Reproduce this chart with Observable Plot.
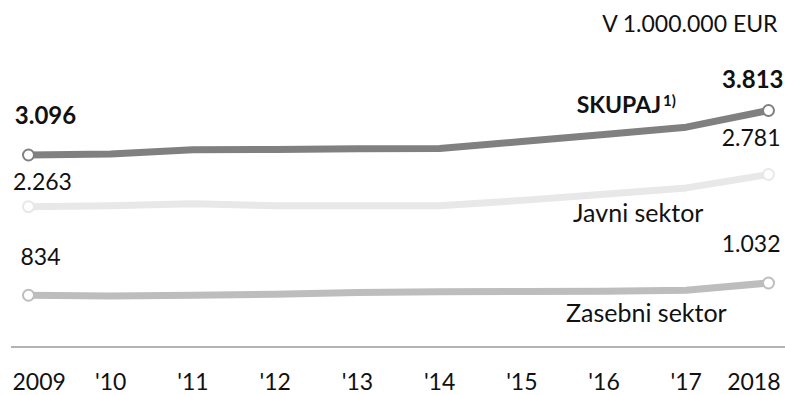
<!DOCTYPE html>
<html>
<head>
<meta charset="utf-8">
<script src="https://cdn.jsdelivr.net/npm/d3@7"></script>
<script src="https://cdn.jsdelivr.net/npm/@observablehq/plot@0.6"></script>
<style>
  html, body { margin: 0; padding: 0; background: #fff; }
  #chart svg { display: block; }
</style>
</head>
<body>
<div id="chart"></div>
<script>
const years = [2009, 2010, 2011, 2012, 2013, 2014, 2015, 2016, 2017, 2018];
const tickLabels = ["2009", "'10", "'11", "'12", "'13", "'14", "'15", "'16", "'17", "2018"];
const skupaj = [3096, 3111, 3179, 3185, 3195, 3200, 3313, 3426, 3544, 3813];
const javni = [2263, 2279, 2311, 2279, 2279, 2279, 2364, 2461, 2565, 2781];
const zasebni = [834, 824, 835, 852, 878, 889, 894, 900, 916, 1032];
const seriesNames = ["Zasebni sektor", "Javni sektor", "SKUPAJ"];
const unitLabel = "V 1.000.000 EUR";
const footnoteMark = "1)";

const colors = {"SKUPAJ": "#808080", "Javni sektor": "#e8e8e8", "Zasebni sektor": "#bdbdbd"};
const values = {"SKUPAJ": skupaj, "Javni sektor": javni, "Zasebni sektor": zasebni};

const rows = seriesNames.flatMap(s => years.map((y, i) => ({series: s, year: y, value: values[s][i]})));
const ends = rows.filter(d => d.year === years[0] || d.year === years[years.length - 1]);

const fmt = d3.formatLocale({decimal: ",", thousands: ".", grouping: [3], currency: ["", ""]}).format(",d");

const startOffsets = {"SKUPAJ": {dx: 17, dy: -39}, "Javni sektor": {dx: 14, dy: -24}, "Zasebni sektor": {dx: 12, dy: -38}};
const endOffsets = {"SKUPAJ": {dx: 15, dy: -30}, "Javni sektor": {dx: 12, dy: -36}, "Zasebni sektor": {dx: 12, dy: -38}};

const font = "Lato, 'Noto Sans', sans-serif";
const marks = [];
marks.push(Plot.ruleY([0], {stroke: "#9a9a9a", strokeWidth: 1.5}));
for (const s of seriesNames) {
  marks.push(Plot.line(rows.filter(d => d.series === s), {x: "year", y: "value", stroke: colors[s], strokeWidth: 7, curve: "linear"}));
}
for (const s of seriesNames) {
  marks.push(Plot.dot(ends.filter(d => d.series === s), {x: "year", y: "value", r: 5.5, fill: "white", stroke: colors[s], strokeWidth: 2}));
}
for (const s of seriesNames) {
  const bold = s === "SKUPAJ";
  const first = rows.filter(d => d.series === s && d.year === years[0]);
  const last = rows.filter(d => d.series === s && d.year === years[years.length - 1]);
  marks.push(Plot.text(first, {x: "year", y: "value", text: d => fmt(d.value), textAnchor: "middle",
    dx: startOffsets[s].dx, dy: startOffsets[s].dy, fontSize: bold ? 24 : 23, fontWeight: bold ? "bold" : "normal", fill: "#111"}));
  marks.push(Plot.text(last, {x: "year", y: "value", text: d => fmt(d.value), textAnchor: "end",
    dx: endOffsets[s].dx, dy: endOffsets[s].dy, fontSize: bold ? 24 : 23, fontWeight: bold ? "bold" : "normal", fill: "#111"}));
}
// series labels, placed relative to the 2016 point of each series
const labelYear = 2016;
const at = s => rows.filter(d => d.series === s && d.year === labelYear);
marks.push(Plot.text(at("SKUPAJ"), {x: "year", y: "value", text: () => "SKUPAJ", textAnchor: "end", dx: 57, dy: -29, fontSize: 23, fontWeight: "bold", fill: "#111"}));
marks.push(Plot.text(at("SKUPAJ"), {x: "year", y: "value", text: () => footnoteMark, textAnchor: "start", dx: 59, dy: -33, fontSize: 15, fontWeight: "bold", fill: "#111"}));
marks.push(Plot.text(at("Javni sektor"), {x: "year", y: "value", text: () => "Javni sektor", textAnchor: "start", dx: -31, dy: 20, fontSize: 25, fill: "#111"}));
marks.push(Plot.text(at("Zasebni sektor"), {x: "year", y: "value", text: () => "Zasebni sektor", textAnchor: "start", dx: -38, dy: 23, fontSize: 25, fill: "#111"}));
// x tick labels
const ticks = years.map((y, i) => ({year: y, label: tickLabels[i]}));
marks.push(Plot.text(ticks.slice(1, -1), {x: "year", text: "label", frameAnchor: "bottom", lineAnchor: "middle", textAnchor: "middle", dy: 35.5, fontSize: 23, fill: "#111"}));
marks.push(Plot.text(ticks.slice(0, 1), {x: "year", text: "label", frameAnchor: "bottom", lineAnchor: "middle", textAnchor: "start", dx: -16, dy: 35.5, fontSize: 23, fill: "#111"}));
marks.push(Plot.text(ticks.slice(-1), {x: "year", text: "label", frameAnchor: "bottom", lineAnchor: "middle", textAnchor: "end", dx: 12, dy: 35.5, fontSize: 23, fill: "#111"}));
// unit label
marks.push(Plot.text([unitLabel], {text: d => d, frameAnchor: "top-right", lineAnchor: "middle", textAnchor: "end", dx: -8, dy: -86, fontSize: 23, fill: "#111"}));

const chart = Plot.plot({
  width: 785,
  height: 395,
  marginLeft: 11,
  marginRight: 0,
  marginTop: 110,
  marginBottom: 48.5,
  style: {fontFamily: font, background: "white", overflow: "visible"},
  x: {type: "linear", domain: [years[0], years[years.length - 1]], range: [28, 768], axis: null},
  y: {domain: [0, 3813], axis: null},
  marks
});
document.getElementById("chart").append(chart);
</script>
</body>
</html>
